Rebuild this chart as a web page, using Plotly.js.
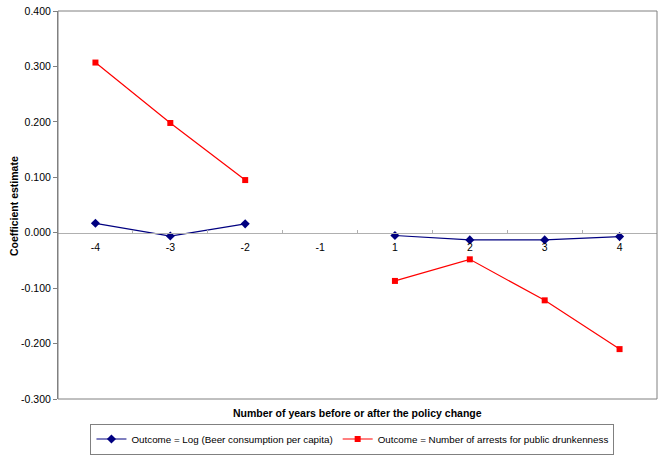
<!DOCTYPE html>
<html><head><meta charset="utf-8">
<script src="https://cdn.plot.ly/plotly-3.0.1.min.js"></script>
<style>html,body{margin:0;padding:0;background:#fff}</style>
</head><body><div id="chart" style="width:665px;height:456px"></div>
<script>
const categories = ['-4','-3','-2','-1','1','2','3','4'];
const beer = [0.017, -0.006, 0.016, null, -0.005, -0.013, -0.013, -0.007];
const arrests = [0.307, 0.198, 0.095, null, -0.087, -0.048, -0.122, -0.210];
const yTicks = [-0.3,-0.2,-0.1,0,0.1,0.2,0.3,0.4];
const yTickText = ['-0.300','-0.200','-0.100','0.000','0.100','0.200','0.300','0.400'];

const fam = 'Liberation Sans, Arial, sans-serif';
const traces = [
  {x:categories, y:beer, type:'scatter', mode:'lines+markers', connectgaps:false,
   name:'Outcome = Log (Beer consumption per capita)',
   line:{color:'#000080', width:1.2}, marker:{symbol:'diamond', size:7, color:'#000080'}},
  {x:categories, y:arrests, type:'scatter', mode:'lines+markers', connectgaps:false,
   name:'Outcome = Number of arrests for public drunkenness',
   line:{color:'#FF0000', width:1.2}, marker:{symbol:'square', size:6, color:'#FF0000'}}
];
const layout = {
  width:665, height:456,
  margin:{l:58, r:8, t:11, b:57},
  paper_bgcolor:'#fff', plot_bgcolor:'#fff',
  font:{family:fam, size:10, color:'#000'},
  showlegend:true,
  legend:{orientation:'h', x:0.53, xanchor:'center', xref:'container', yref:'container',
    y:1-439/456, yanchor:'middle',
    bordercolor:'#808080', borderwidth:1, font:{family:fam, size:9.8, color:'#000'},
    itemwidth:30, tracegroupgap:0},
  xaxis:{type:'category', categoryorder:'array', categoryarray:categories,
    range:[-0.5,7.5], anchor:'free', position:3/7,
    showline:true, linecolor:'#b0b0b0', linewidth:1,
    ticks:'inside', ticklen:3, tickcolor:'#b0b0b0', tickson:'boundaries',
    ticklabelstandoff:5,
    showgrid:false, zeroline:false, tickfont:{family:fam,size:10.5,color:'#000'}},
  yaxis:{range:[-0.3,0.4], tickvals:yTicks, ticktext:yTickText,
    showgrid:false, zeroline:false, showline:true, linecolor:'#808080',
    ticks:'outside', ticklen:4, tickcolor:'#808080',
    tickfont:{family:fam,size:10.5,color:'#000'}},
  shapes:[
    {type:'rect', xref:'paper', yref:'paper', x0:0, x1:1, y0:0, y1:1, line:{color:'#808080', width:1}}
  ],
  annotations:[
    {text:'<b>Number of years before or after the policy change</b>', xref:'paper', yref:'paper',
     x:0.5, y:-0.036, xanchor:'center', yanchor:'middle', showarrow:false,
     font:{family:fam,size:10.5,color:'#000'}},
    {text:'<b>Coefficient estimate</b>', xref:'paper', yref:'paper', textangle:-90,
     x:-58/599+14/599, y:(399-206)/388, xanchor:'center', yanchor:'middle', showarrow:false,
     font:{family:fam,size:10.5,color:'#000'}}
  ]
};
Plotly.newPlot('chart', traces, layout, {displayModeBar:false, staticPlot:true});
</script></body></html>
